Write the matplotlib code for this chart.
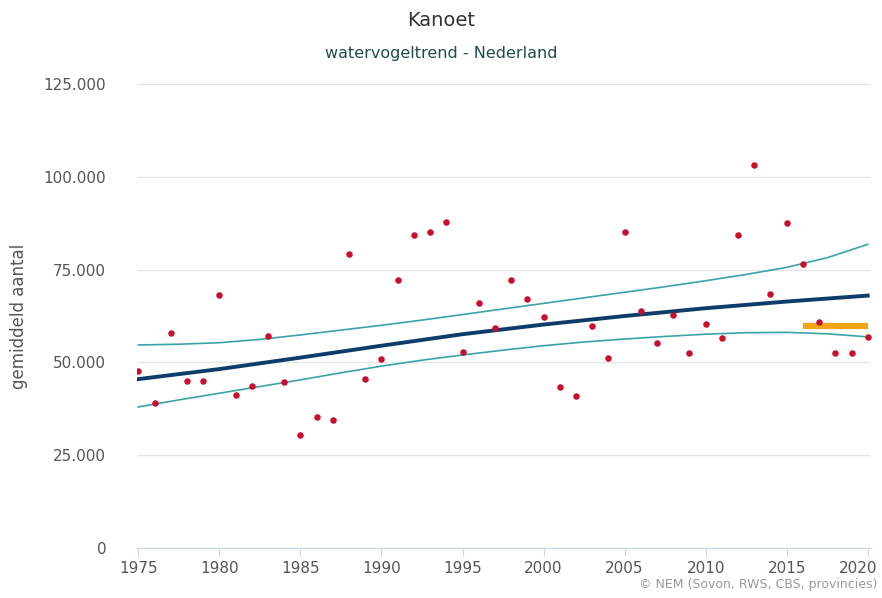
import numpy as np
import matplotlib
matplotlib.use("Agg")
import matplotlib.pyplot as plt
from matplotlib.transforms import ScaledTranslation

plt.rcParams['font.family'] = ['DejaVu Sans']

# yearly counts (dots)
years = list(range(1975, 2021))
counts = [47700, 39000, 57900, 45000, 45000, 68100, 41200, 43600, 57100, 44800,
          30500, 35300, 34500, 79100, 45500, 50800, 72100, 84300, 85100, 87900,
          52900, 65900, 59200, 72100, 67200, 62300, 43500, 41000, 59800, 51300,
          85100, 63900, 55300, 62700, 52500, 60300, 56600, 84400, 103100, 68400,
          87500, 76600, 60900, 52500, 52500, 56900]

# trend line and confidence band
trend_years = [1975, 1980, 1985, 1990, 1995, 2000, 2005, 2010, 2015, 2020]
trend = [45500, 48200, 51300, 54500, 57600, 60200, 62500, 64600, 66400, 68000]

band_years = [1975, 1977.5, 1980, 1982.5, 1985, 1987.5, 1990, 1992.5, 1995,
              1997.5, 2000, 2002.5, 2005, 2007.5, 2010, 2012.5, 2015, 2017.5,
              2020]
upper = [54700, 54900, 55300, 56200, 57400, 58700, 60000, 61400, 62900,
         64400, 65900, 67400, 68900, 70400, 72000, 73700, 75600, 78200, 81800]
lower = [38000, 39900, 41700, 43500, 45300, 47200, 49000, 50600, 52000,
         53300, 54500, 55500, 56300, 57000, 57600, 58000, 58100, 57700, 56900]

# recent mean (orange bar)
recent_years = [2016, 2020]
recent_mean = [59800, 59800]

yticks = [0, 25000, 50000, 75000, 100000, 125000]
ytick_labels = ['0', '25.000', '50.000', '75.000', '100.000', '125.000']
xticks = list(range(1975, 2021, 5))

fig = plt.figure(figsize=(8.82, 5.98), dpi=100)
ax = fig.add_axes([0.155, 0.0836, 0.8325, 0.7759])

ax.plot(band_years, upper, color='#3aa3a8', lw=1.2, zorder=2)
ax.plot(band_years, lower, color='#3aa3a8', lw=1.2, zorder=2)
ax.plot(trend_years, trend, color='#0f3d6b', lw=2.8, zorder=3)
ax.plot(recent_years, recent_mean, color='#f2a516', lw=4.5,
        solid_capstyle='butt', zorder=4)
ax.scatter(years, counts, s=22, color='#c8102e', zorder=5, linewidths=0)

ax.set_xlim(1974.9, 2020.2)
ax.set_ylim(0, 125000)
ax.set_yticks(yticks)
ax.set_yticklabels(ytick_labels)
ax.set_xticks(xticks)
ax.grid(axis='y', color='#e6e6e6', lw=1)
ax.set_axisbelow(True)
for side in ['top', 'right', 'left']:
    ax.spines[side].set_visible(False)
ax.spines['bottom'].set_color('#ccd6eb')
ax.tick_params(axis='y', length=0, pad=22, labelsize=11, labelcolor='#555555')
ax.tick_params(axis='x', length=6, color='#ccd6eb', pad=3, labelsize=11,
               labelcolor='#555555')

# keep the last year label inside the figure
last = ax.get_xticklabels()[-1]
last.set_transform(last.get_transform() +
                   ScaledTranslation(-0.1, 0, fig.dpi_scale_trans))

ax.set_ylabel('gemiddeld aantal', fontsize=12, color='#555555')
ax.yaxis.set_label_coords(-0.148, 0.5)

fig.text(0.5, 0.965, 'Kanoet', ha='center', va='center', fontsize=14,
         color='#333333')
fig.text(0.5, 0.91, 'watervogeltrend - Nederland', ha='center', va='center',
         fontsize=11.5, color='#1e4d4a')
fig.text(0.995, 0.012, '\u00a9 NEM (Sovon, RWS, CBS, provincies)', ha='right',
         va='bottom', fontsize=9, color='#999999')

fig.savefig('out.png', dpi=100)
